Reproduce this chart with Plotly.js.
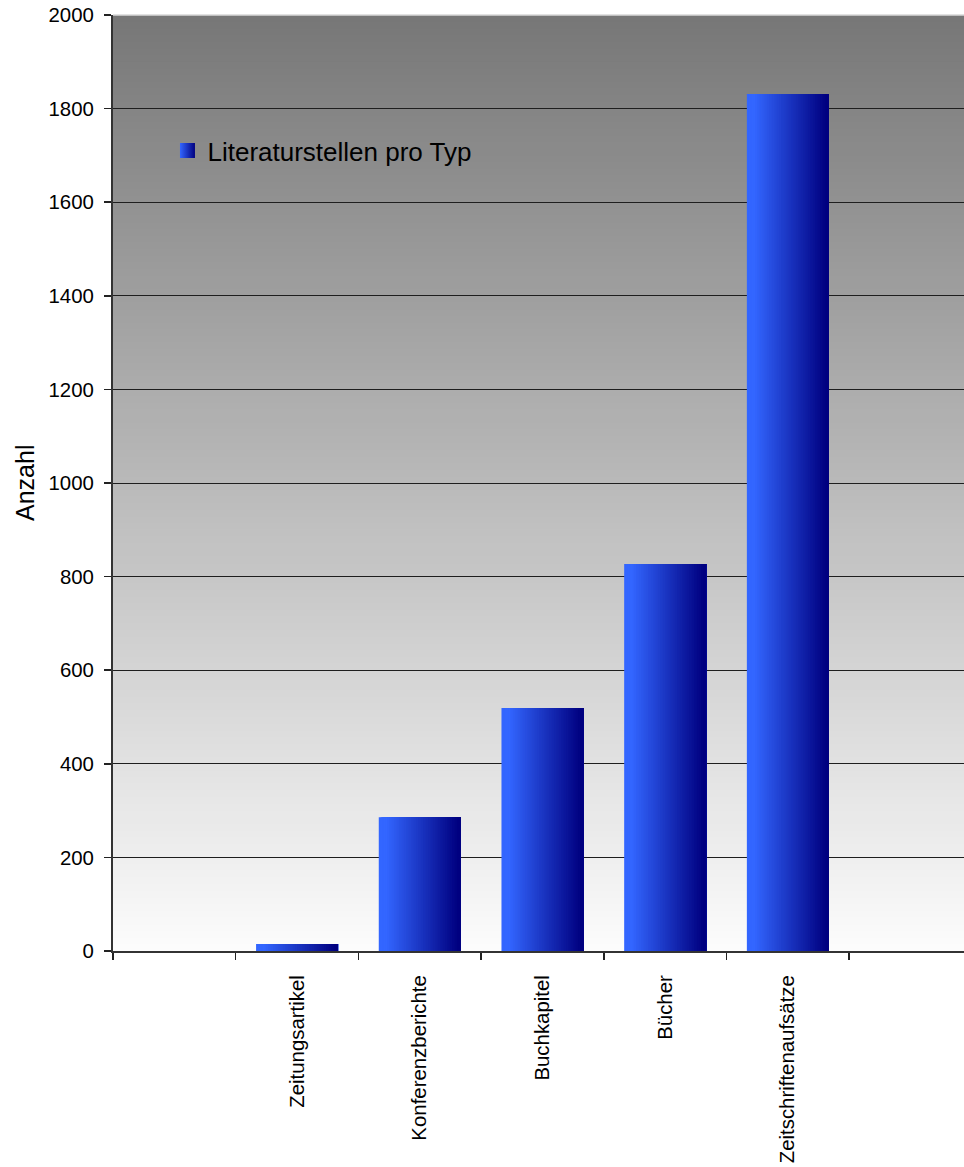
<!DOCTYPE html>
<html>
<head>
<meta charset="utf-8">
<script src="https://cdn.plot.ly/plotly-3.0.1.min.js"></script>
<style>
html,body{margin:0;padding:0;overflow:hidden;background:#fff;}
#chart{width:964px;height:1167px;}
</style>
</head>
<body>
<div id="chart"></div>
<script>
// ---- data ----
const categories = ['Zeitungsartikel', 'Konferenzberichte', 'Buchkapitel', 'Bücher', 'Zeitschriftenaufsätze'];
const values = [15, 286, 519, 827, 1831];
const seriesName = 'Literaturstellen pro Typ';
const slotCategories = [' ', ...categories, '  '];
const yTickValues = [0, 200, 400, 600, 800, 1000, 1200, 1400, 1600, 1800, 2000];
const yTitle = 'Anzahl';

// ---- styling helpers ----
const FONT = '"Liberation Sans", Arial, sans-serif';
const barWidth = 0.668;
const nSlices = 48;
const cLeft = [51, 102, 255];
const cRight = [0, 0, 128];
function mix(a, b, t) {
  return 'rgb(' + a.map((v, k) => Math.round(v + (b[k] - v) * t)).join(',') + ')';
}

const traces = [];
// invisible trace so every category slot exists on the axis
traces.push({
  type: 'scatter', mode: 'markers', x: slotCategories, y: slotCategories.map(() => 0),
  marker: {opacity: 0, size: 1}, showlegend: false, hoverinfo: 'skip'
});
// horizontal gradient bars built from slices
for (let i = 0; i < nSlices; i++) {
  const s = i / nSlices;
  const t = Math.max(0, Math.min(1, (s - 0.08) / 0.88));
  const off = -barWidth / 2 + s * barWidth;
  traces.push({
    type: 'bar',
    x: categories,
    y: values,
    name: seriesName,
    legendgroup: 'lit',
    width: barWidth - s * barWidth,
    offset: off,
    marker: {color: mix(cLeft, cRight, t), line: {width: 0}},
    showlegend: false,
    hoverinfo: 'skip'
  });
}
// legend entry with a gradient square key (no visible points)
traces.push({
  type: 'scatter', mode: 'markers', x: [null], y: [null],
  name: seriesName, legendgroup: 'lit', showlegend: true,
  marker: {symbol: 'square', size: 15, color: 'rgb(51,102,255)',
           gradient: {type: 'horizontal', color: 'rgb(0,0,128)'}, line: {width: 0}},
  hoverinfo: 'skip'
});

// vertical grey gradient background
const shapes = [];
const nBands = 140;
const topGrey = 119, botGrey = 252;
for (let i = 0; i < nBands; i++) {
  const f = i / nBands; // 0 = bottom
  const g = Math.round(botGrey + (topGrey - botGrey) * (f + 0.5 / nBands));
  shapes.push({
    type: 'rect', xref: 'paper', yref: 'paper', x0: 0, x1: 1, y0: f, y1: 1,
    fillcolor: 'rgb(' + g + ',' + g + ',' + g + ')', line: {width: 0}, layer: 'below'
  });
}
// light top edge
shapes.push({type: 'line', xref: 'paper', yref: 'paper', x0: 0, x1: 1, y0: 1, y1: 1,
  line: {color: '#d8d8d8', width: 1.5}, layer: 'above'});

const slotPx = 122.7;
const plotW = 964 - 113;

const layout = {
  width: 964, height: 1167,
  margin: {l: 113, r: 0, t: 15, b: 216, pad: 0},
  paper_bgcolor: '#ffffff',
  plot_bgcolor: '#ffffff',
  barmode: 'overlay',
  font: {family: FONT, color: '#000', size: 20},
  showlegend: true,
  legend: {
    x: 0.064, y: 0.855, xanchor: 'left', yanchor: 'middle',
    bgcolor: 'rgba(0,0,0,0)', borderwidth: 0, itemsizing: 'trace',
    font: {family: FONT, size: 26, color: '#000'}
  },
  xaxis: {
    type: 'category',
    categoryorder: 'array', categoryarray: slotCategories,
    range: [-0.5, -0.5 + plotW / slotPx],
    tickson: 'boundaries',
    ticks: 'outside', ticklen: 7, tickwidth: 1.5, tickcolor: '#222',
    tickangle: -90,
    ticklabelstandoff: 14,
    tickfont: {family: FONT, size: 20.4, color: '#000'},
    showline: true, linecolor: '#333', linewidth: 2,
    showgrid: false, zeroline: false, fixedrange: true, automargin: false
  },
  yaxis: {
    range: [0, 2000],
    tickvals: yTickValues,
    ticks: 'outside', ticklen: 7, tickwidth: 1.5, tickcolor: '#222',
    ticklabelstandoff: 6,
    tickfont: {family: FONT, size: 20.4, color: '#000'},
    showline: true, linecolor: '#333', linewidth: 2,
    showgrid: true, gridcolor: '#1e1e1e', gridwidth: 1,
    zeroline: false, fixedrange: true, automargin: false
  },
  annotations: [{
    text: yTitle, xref: 'paper', yref: 'paper', x: -0.1034, y: 0.5,
    xanchor: 'center', yanchor: 'middle', textangle: -90, showarrow: false,
    font: {family: FONT, size: 25, color: '#000'}
  }],
  shapes: shapes
};

Plotly.newPlot('chart', traces, layout, {displayModeBar: false, staticPlot: true});
</script>
</body>
</html>
